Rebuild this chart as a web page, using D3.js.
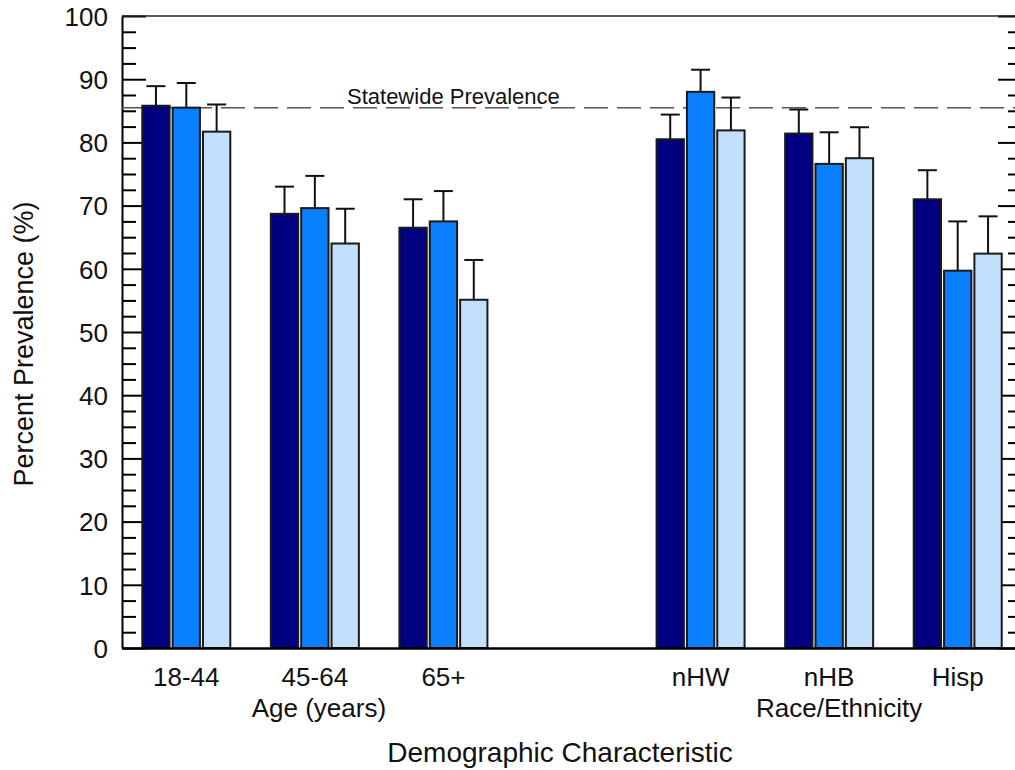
<!DOCTYPE html>
<html>
<head>
<meta charset="utf-8">
<script src="https://cdn.jsdelivr.net/npm/d3@7"></script>
<style>
  body { margin: 0; background: #fff; }
  text { font-family: "Liberation Sans", Arial, sans-serif; fill: #111; }
</style>
</head>
<body>
<div id="chart"></div>
<script>
// chart values
var slots = ["18-44", "45-64", "65+", "spacer", "nHW", "nHB", "Hisp"];
var categories = ["18-44", "45-64", "65+", "nHW", "nHB", "Hisp"];
var seriesNames = ["Series 1", "Series 2", "Series 3"];
var valuesS1 = [85.8, 68.7, 66.5, 80.5, 81.4, 71.0];
var valuesS2 = [85.5, 69.6, 67.5, 88.0, 76.6, 59.7];
var valuesS3 = [81.7, 64.0, 55.1, 81.9, 77.5, 62.4];
var upperS1 = [88.9, 73.0, 71.0, 84.4, 85.2, 75.6];
var upperS2 = [89.4, 74.7, 72.3, 91.5, 81.6, 67.5];
var upperS3 = [86.0, 69.5, 61.4, 87.1, 82.4, 68.3];
var yTicks = [0, 10, 20, 30, 40, 50, 60, 70, 80, 90, 100];
var statewidePrevalence = 85.5;
var groupLabels = ["Age (years)", "Race/Ethnicity"];
var groupAnchors = ["45-64", "nHB"];

var seriesColors = ["#000080", "#0a80ff", "#c2e0fd"];

var svgWidth = 1015;
var svgHeight = 770;

var margin = {
  top: 16,
  bottom: 122,
  right: -7,
  left: 122
};

var width = svgWidth - margin.left - margin.right;
var height = svgHeight - margin.top - margin.bottom;

var svg = d3.select("#chart")
  .append("svg")
  .attr("width", svgWidth)
  .attr("height", svgHeight);

var chartGroup = svg.append("g")
  .attr("transform", `translate(${margin.left}, ${margin.top})`);

var valueLists = [valuesS1, valuesS2, valuesS3];
var upperLists = [upperS1, upperS2, upperS3];
var rows = categories.map(function(c, i) {
  return {
    category: c,
    bars: seriesNames.map(function(s, j) {
      return { series: s, value: valueLists[j][i], upper: upperLists[j][i], color: seriesColors[j] };
    })
  };
});

// scales
var xScale = d3.scaleBand().domain(slots).range([0, width]);
var groupWidth = 88;
var xInner = d3.scaleBand().domain(seriesNames).range([0, groupWidth]).paddingInner(0.1);
var yScale = d3.scaleLinear().domain([0, 100]).range([height, 0]);

function groupLeft(c) {
  return xScale(c) + xScale.bandwidth() / 2 - groupWidth / 2;
}

// axes
var minorTicks = d3.range(0, 100.01, 2.5).filter(d => d % 10 !== 0);

var leftAxis = chartGroup.append("g")
  .call(d3.axisLeft(yScale).tickValues(yTicks).tickSize(-24).tickSizeOuter(0).tickPadding(14));
leftAxis.selectAll("text").style("font-size", "26px").attr("dy", "0.36em");
leftAxis.select(".domain").attr("stroke-width", 2);
leftAxis.selectAll(".tick line").attr("stroke-width", 2);

chartGroup.append("g")
  .call(d3.axisLeft(yScale).tickValues(minorTicks).tickSize(-14).tickFormat(""))
  .call(g => g.select(".domain").remove())
  .selectAll(".tick line").attr("stroke-width", 2);

var rightAxis = chartGroup.append("g")
  .attr("transform", `translate(${width}, 0)`)
  .call(d3.axisRight(yScale).tickValues(yTicks).tickSize(-24).tickSizeOuter(0).tickFormat(""));
rightAxis.selectAll(".tick line").attr("stroke-width", 2);
rightAxis.select(".domain").attr("stroke-width", 2);

chartGroup.append("g")
  .attr("transform", `translate(${width}, 0)`)
  .call(d3.axisRight(yScale).tickValues(minorTicks).tickSize(-14).tickFormat(""))
  .call(g => g.select(".domain").remove())
  .selectAll(".tick line").attr("stroke-width", 2);

// top border
chartGroup.append("line")
  .attr("x1", 0).attr("x2", width)
  .attr("y1", yScale(100)).attr("y2", yScale(100))
  .attr("stroke", "#222").attr("stroke-width", 1.6);

// statewide prevalence
chartGroup.append("line")
  .attr("x1", 0).attr("x2", width)
  .attr("y1", yScale(statewidePrevalence)).attr("y2", yScale(statewidePrevalence))
  .attr("stroke", "#555").attr("stroke-width", 1.5)
  .attr("stroke-dasharray", "24,9");

chartGroup.append("text")
  .attr("x", 225)
  .attr("y", yScale(statewidePrevalence) - 4)
  .style("font-size", "22px")
  .text("Statewide Prevalence");

// bars
var groups = chartGroup.selectAll(".group")
  .data(rows)
  .enter()
  .append("g")
  .attr("class", "group")
  .attr("transform", d => `translate(${groupLeft(d.category)}, 0)`);

groups.selectAll("rect")
  .data(d => d.bars)
  .enter()
  .append("rect")
  .attr("x", d => xInner(d.series))
  .attr("y", d => yScale(d.value))
  .attr("width", xInner.bandwidth())
  .attr("height", d => yScale(0) - yScale(d.value))
  .attr("fill", d => d.color)
  .attr("stroke", "#1a1a1a")
  .attr("stroke-width", 2);

// error bars
var capHalf = 9.5;
var errs = groups.selectAll(".err")
  .data(d => d.bars)
  .enter()
  .append("g")
  .attr("class", "err")
  .attr("stroke", "#111")
  .attr("stroke-width", 2);

errs.append("line")
  .attr("x1", d => xInner(d.series) + xInner.bandwidth() / 2)
  .attr("x2", d => xInner(d.series) + xInner.bandwidth() / 2)
  .attr("y1", d => yScale(d.value))
  .attr("y2", d => yScale(d.upper));

errs.append("line")
  .attr("x1", d => xInner(d.series) + xInner.bandwidth() / 2 - capHalf)
  .attr("x2", d => xInner(d.series) + xInner.bandwidth() / 2 + capHalf)
  .attr("y1", d => yScale(d.upper))
  .attr("y2", d => yScale(d.upper));

// bottom axis
var bottomAxis = chartGroup.append("g")
  .attr("transform", `translate(0, ${height})`)
  .call(d3.axisBottom(xScale).tickValues(categories).tickSize(0).tickSizeOuter(0).tickPadding(20));
bottomAxis.selectAll("text").style("font-size", "26px");
bottomAxis.select(".domain").attr("stroke-width", 2.5);

// group labels
chartGroup.selectAll(".groupLabel")
  .data(groupLabels)
  .enter()
  .append("text")
  .attr("class", "groupLabel")
  .attr("text-anchor", "middle")
  .attr("x", (d, i) => xScale(groupAnchors[i]) + xScale.bandwidth() / 2 + (i === 0 ? 4 : 10))
  .attr("y", height + 69)
  .style("font-size", "26px")
  .text(d => d);

// axis titles
svg.append("text")
  .attr("text-anchor", "middle")
  .attr("x", 560)
  .attr("y", 762)
  .style("font-size", "28px")
  .text("Demographic Characteristic");

svg.append("text")
  .attr("text-anchor", "middle")
  .attr("transform", "translate(33, 344) rotate(-90)")
  .style("font-size", "27px")
  .text("Percent Prevalence (%)");
</script>
</body>
</html>
